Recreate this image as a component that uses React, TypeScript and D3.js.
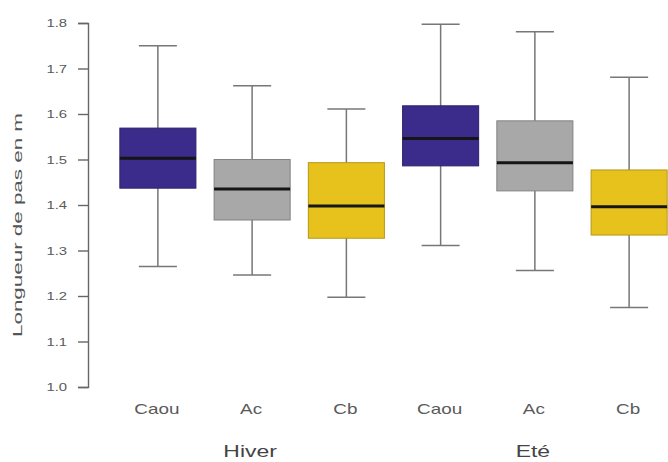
import React, { useEffect, useRef } from "react";
import * as d3 from "d3";

// one box per (season, group)
const seasons = ["Hiver", "Eté"];
const groups = ["Caou", "Ac", "Cb"];
const groupColors = ["#3b2b8a", "#a8a8a8", "#e8c21c"];

const lowWhisker = [1.265, 1.246, 1.197, 1.311, 1.256, 1.175];
const q1 = [1.437, 1.367, 1.327, 1.486, 1.431, 1.334];
const median = [1.503, 1.435, 1.398, 1.546, 1.493, 1.396];
const q3 = [1.569, 1.5, 1.493, 1.618, 1.585, 1.477];
const highWhisker = [1.75, 1.662, 1.611, 1.797, 1.781, 1.681];

const yTicks = [1.0, 1.1, 1.2, 1.3, 1.4, 1.5, 1.6, 1.7, 1.8];

const width = 668;
const height = 462;
const stretch = 1.35;
const font = "'Liberation Sans', Arial, Helvetica, sans-serif";

const drawChart = (node: SVGSVGElement) => {
  const svg = d3.select(node);
  svg.selectAll("*").remove();

  const boxes = seasons.flatMap((s, si) =>
    groups.map((g, gi) => {
      const i = si * groups.length + gi;
      return {
        id: `${s}-${g}`, season: s, group: g, color: groupColors[gi],
        lo: lowWhisker[i], q1: q1[i], med: median[i], q3: q3[i], hi: highWhisker[i],
      };
    })
  );

  const y = d3.scaleLinear().domain([1.0, 1.8]).range([387, 23]);
  const x = d3.scaleBand()
    .domain(boxes.map(d => d.id))
    .range([101, 686])
    .paddingInner(0.193)
    .paddingOuter(0.2);
  const bw = x.bandwidth();
  const cx = (id: string) => (x(id) as number) + bw / 2;

  // y axis
  const axis = svg.append("g")
      .attr("transform", "translate(88,0)")
      .call(d3.axisLeft(y).tickValues(yTicks).tickSize(10).tickSizeOuter(10).tickFormat(d3.format(".1f")));
  axis.select(".domain").attr("stroke", "#666").attr("stroke-width", 1.4);
  axis.selectAll(".tick line").attr("stroke", "#666").attr("stroke-width", 1.4);
  axis.selectAll(".tick text")
      .attr("x", null)
      .attr("dy", "0.35em")
      .attr("transform", `translate(-21,0) scale(${stretch},1)`)
      .attr("fill", "#5a5a5a")
      .attr("font-size", 11)
      .attr("font-family", font);

  svg.append("text")
      .attr("transform", "translate(22,225) rotate(-90)")
      .attr("text-anchor", "middle")
      .attr("font-size", 12)
      .attr("font-family", font)
      .attr("fill", "#555")
      .attr("textLength", 224)
      .attr("lengthAdjust", "spacingAndGlyphs")
      .text("Longueur de pas en m");

  const g = svg.selectAll("g.box")
    .data(boxes)
    .join("g")
      .attr("class", "box");

  g.append("line")
      .attr("x1", d => cx(d.id)).attr("x2", d => cx(d.id))
      .attr("y1", d => y(d.hi)).attr("y2", d => y(d.lo))
      .attr("stroke", "#777").attr("stroke-width", 1.5);

  g.selectAll("line.cap")
    .data(d => [d.lo, d.hi].map(v => ({ id: d.id, v })))
    .join("line")
      .attr("class", "cap")
      .attr("x1", d => cx(d.id) - bw / 4).attr("x2", d => cx(d.id) + bw / 4)
      .attr("y1", d => y(d.v)).attr("y2", d => y(d.v))
      .attr("stroke", "#777").attr("stroke-width", 1.5);

  g.append("rect")
      .attr("x", d => x(d.id) as number)
      .attr("width", bw)
      .attr("y", d => y(d.q3))
      .attr("height", d => y(d.q1) - y(d.q3))
      .attr("fill", d => d.color)
      .attr("stroke", d => d3.color(d.color)!.darker(0.7).formatHex())
      .attr("stroke-width", 1);

  g.append("line")
      .attr("x1", d => x(d.id) as number).attr("x2", d => (x(d.id) as number) + bw)
      .attr("y1", d => y(d.med)).attr("y2", d => y(d.med))
      .attr("stroke", "#151515").attr("stroke-width", 3);

  // category labels
  svg.selectAll("text.cat")
    .data(boxes)
    .join("text")
      .attr("class", "cat")
      .attr("transform", d => `translate(${cx(d.id) - 1},414) scale(${stretch},1)`)
      .attr("text-anchor", "middle")
      .attr("font-size", 14)
      .attr("font-family", font)
      .attr("fill", "#5a5a5a")
      .text(d => d.group);

  // season labels, under the middle box of each season
  svg.selectAll("text.season")
    .data(seasons)
    .join("text")
      .attr("class", "season")
      .attr("transform", s => `translate(${cx(`${s}-${groups[1]}`) - 2},457) scale(${stretch},1)`)
      .attr("text-anchor", "middle")
      .attr("font-size", 17)
      .attr("font-family", font)
      .attr("fill", "#444")
      .text(s => s);
};

const App = () => {
  const ref = useRef<SVGSVGElement>(null);
  useEffect(() => {
    if (ref.current) drawChart(ref.current);
  }, []);
  return (
    <svg ref={ref} width={width} height={height}
      style={{ position: "absolute", left: 0, top: 0, background: "#fff" }} />
  );
};

export default App;
